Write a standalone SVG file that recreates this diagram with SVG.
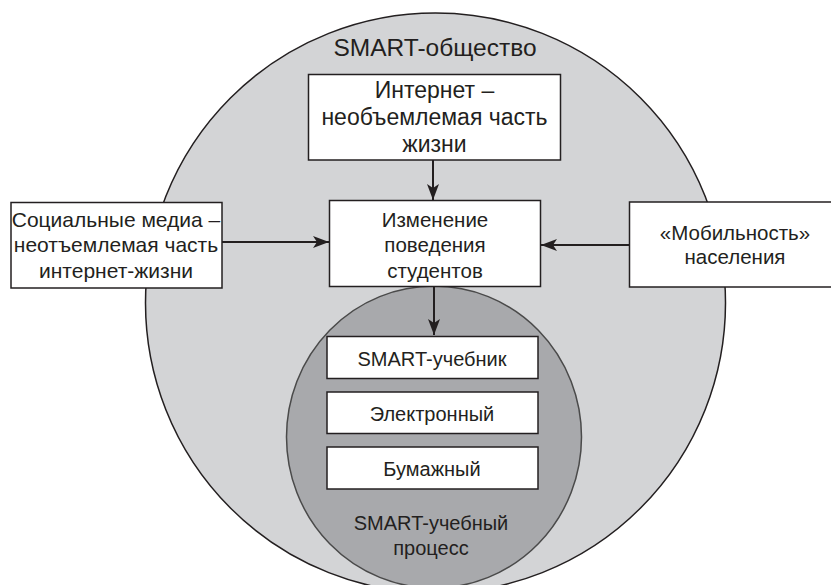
<svg xmlns="http://www.w3.org/2000/svg" width="831" height="585" viewBox="0 0 831 585">
<defs>
<style>
text{font-family:"Liberation Sans",Arial,sans-serif;fill:#231f20;text-anchor:middle}
.box{fill:#fff;stroke:#231f20;stroke-width:1.5}
.con{stroke:#231f20;stroke-width:2;fill:none}
</style>
<marker id="ah" markerWidth="18" markerHeight="14" refX="16" refY="6.5" orient="auto" markerUnits="userSpaceOnUse">
<path d="M0,0.5 L16,6.5 L0,12.5 L4,6.5 z" fill="#231f20"/>
</marker>
</defs>
<rect width="831" height="585" fill="#fff"/>
<g id="society">
<circle cx="435.5" cy="303" r="290" fill="#d3d4d6" stroke="#231f20" stroke-width="1.5"/>
<text x="435" y="56" font-size="24.5">SMART-общество</text>
</g>
<g id="process">
<ellipse cx="434" cy="437" rx="147.5" ry="151" fill="#a8a9ac" stroke="#4a4a4a" stroke-width="1.5"/>
<text x="431" y="530" font-size="20">SMART-учебный</text>
<text x="431" y="555" font-size="20">процесс</text>
</g>
<g id="internet">
<rect class="box" x="308.5" y="74.5" width="252" height="85.5"/>
<text x="434.5" y="98" font-size="23">Интернет –</text>
<text x="434.5" y="125" font-size="23">необъемлемая часть</text>
<text x="434.5" y="152" font-size="23">жизни</text>
</g>
<g id="behavior">
<rect class="box" x="329.5" y="200.5" width="211" height="86"/>
<text x="435" y="226.5" font-size="20.5">Изменение</text>
<text x="435" y="252" font-size="20.5">поведения</text>
<text x="435" y="277.5" font-size="20.5">студентов</text>
</g>
<g id="social">
<rect class="box" x="11" y="202.5" width="211" height="85.5"/>
<text x="116" y="227" font-size="21">Социальные медиа –</text>
<text x="116" y="252" font-size="21">неотъемлемая часть</text>
<text x="116" y="278" font-size="21">интернет-жизни</text>
</g>
<g id="mobility">
<rect class="box" x="629.5" y="202" width="212" height="85"/>
<text x="735" y="240" font-size="20.5">«Мобильность»</text>
<text x="735" y="264" font-size="20.5">населения</text>
</g>
<g id="textbook">
<rect class="box" x="327" y="336.5" width="211" height="42"/>
<text x="432" y="366" font-size="20">SMART-учебник</text>
</g>
<g id="electronic">
<rect class="box" x="327" y="392" width="211" height="41.5"/>
<text x="432" y="420.5" font-size="20">Электронный</text>
</g>
<g id="paper">
<rect class="box" x="327" y="447" width="211" height="42"/>
<text x="432" y="475.5" font-size="20">Бумажный</text>
</g>
<g id="connectors">
<line class="con" x1="433" y1="160" x2="433" y2="200" marker-end="url(#ah)"/>
<line class="con" x1="222" y1="242" x2="329" y2="242" marker-end="url(#ah)"/>
<line class="con" x1="629" y1="245" x2="541" y2="245" marker-end="url(#ah)"/>
<line class="con" x1="434" y1="287" x2="434" y2="335" marker-end="url(#ah)"/>
</g>
</svg>
